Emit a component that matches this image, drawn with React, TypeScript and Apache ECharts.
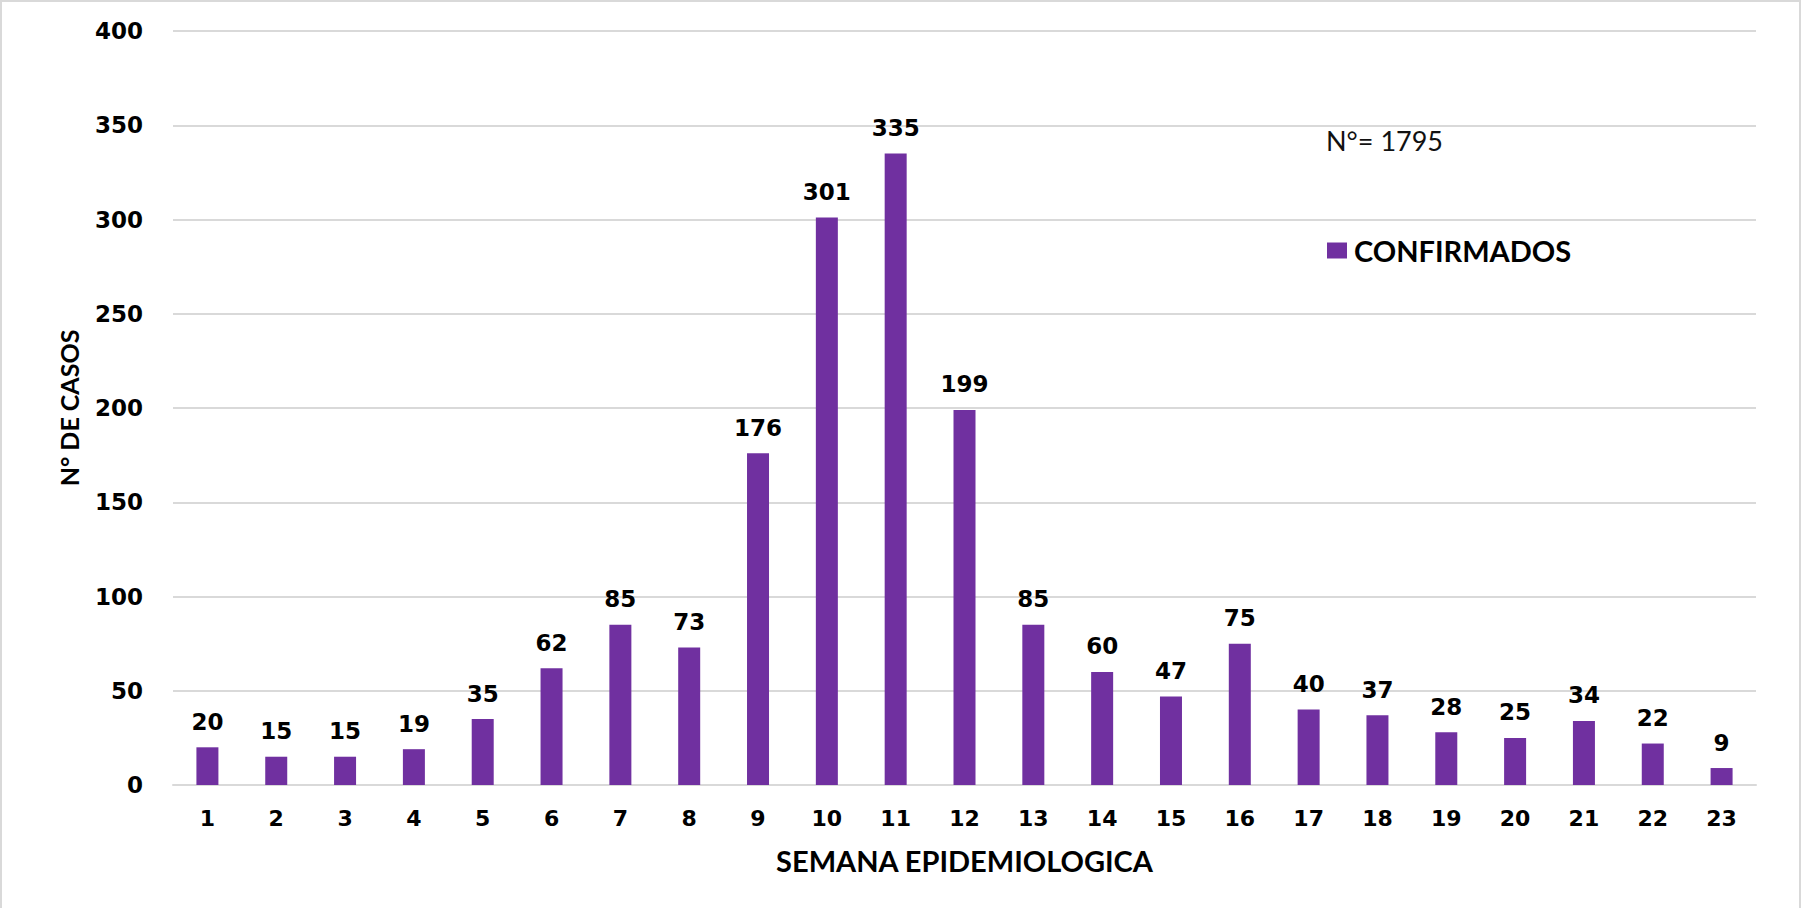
import React, { useEffect, useRef } from "react";
import * as echarts from "echarts";

const weeks = ["1","2","3","4","5","6","7","8","9","10","11","12","13","14","15","16","17","18","19","20","21","22","23"];
const confirmados = [20,15,15,19,35,62,85,73,176,301,335,199,85,60,47,75,40,37,28,25,34,22,9];
const seriesName = "CONFIRMADOS";
const totalText = "N°= 1795";
const xTitle = "SEMANA EPIDEMIOLOGICA";
const yTitle = "N° DE CASOS";

export default function App() {
  const ref = useRef<HTMLDivElement>(null);
  useEffect(() => {
    if (!ref.current) return;
    const chart = echarts.init(ref.current, null, { renderer: "svg" });
    const tickFont = { fontFamily: "DejaVu Sans", fontWeight: "bold" as const, color: "#000" };
    chart.setOption({
      animation: false,
      backgroundColor: "#fff",
      grid: { left: 173, right: 46, top: 31, bottom: 123, containLabel: false },
      legend: {
        data: [seriesName],
        left: 1322,
        top: 231,
        itemWidth: 20,
        itemHeight: 16,
        itemGap: 8,
        icon: "rect",
        textStyle: { fontFamily: "Lato", fontWeight: "bold", fontSize: 29, color: "#000", padding: [0, 0, 0, 2] },
      },
      xAxis: {
        type: "category",
        data: weeks,
        name: xTitle,
        nameLocation: "middle",
        nameGap: 61,
        nameTextStyle: { fontFamily: "Lato", fontWeight: "bold", fontSize: 29, color: "#000" },
        axisLine: { show: true, lineStyle: { color: "#d9d9d9", width: 2 } },
        axisTick: { show: false },
        axisLabel: { ...tickFont, fontSize: 22, margin: 22 },
      },
      yAxis: {
        type: "value",
        min: 0,
        max: 400,
        interval: 50,
        name: yTitle,
        nameLocation: "middle",
        nameGap: 92,
        nameTextStyle: { fontFamily: "Lato", fontWeight: "bold", fontSize: 25, color: "#000" },
        axisLine: { show: false },
        axisTick: { show: false },
        splitLine: { lineStyle: { color: "#d9d9d9", width: 2 } },
        axisLabel: { ...tickFont, fontSize: 23, margin: 30 },
      },
      graphic: [
        {
          type: "rect",
          shape: { x: 1, y: 1, width: 1799, height: 920 },
          style: { fill: "none", stroke: "#d9d9d9", lineWidth: 2 },
          silent: true,
        },
        {
          type: "text",
          left: 1326,
          top: 127,
          style: { text: totalText, fontFamily: "Lato", fontSize: 27, fill: "#111" },
        },
      ],
      series: [
        {
          name: seriesName,
          type: "bar",
          data: confirmados,
          barWidth: 22,
          itemStyle: { color: "#7030A0" },
          label: {
            show: true,
            position: "top",
            distance: 14,
            ...tickFont,
            fontSize: 23,
          },
        },
      ],
    });
    return () => chart.dispose();
  }, []);
  return (
    <div
      ref={ref}
      style={{ position: "fixed", left: 0, top: 0, width: 1802, height: 908 }}
    />
  );
}
